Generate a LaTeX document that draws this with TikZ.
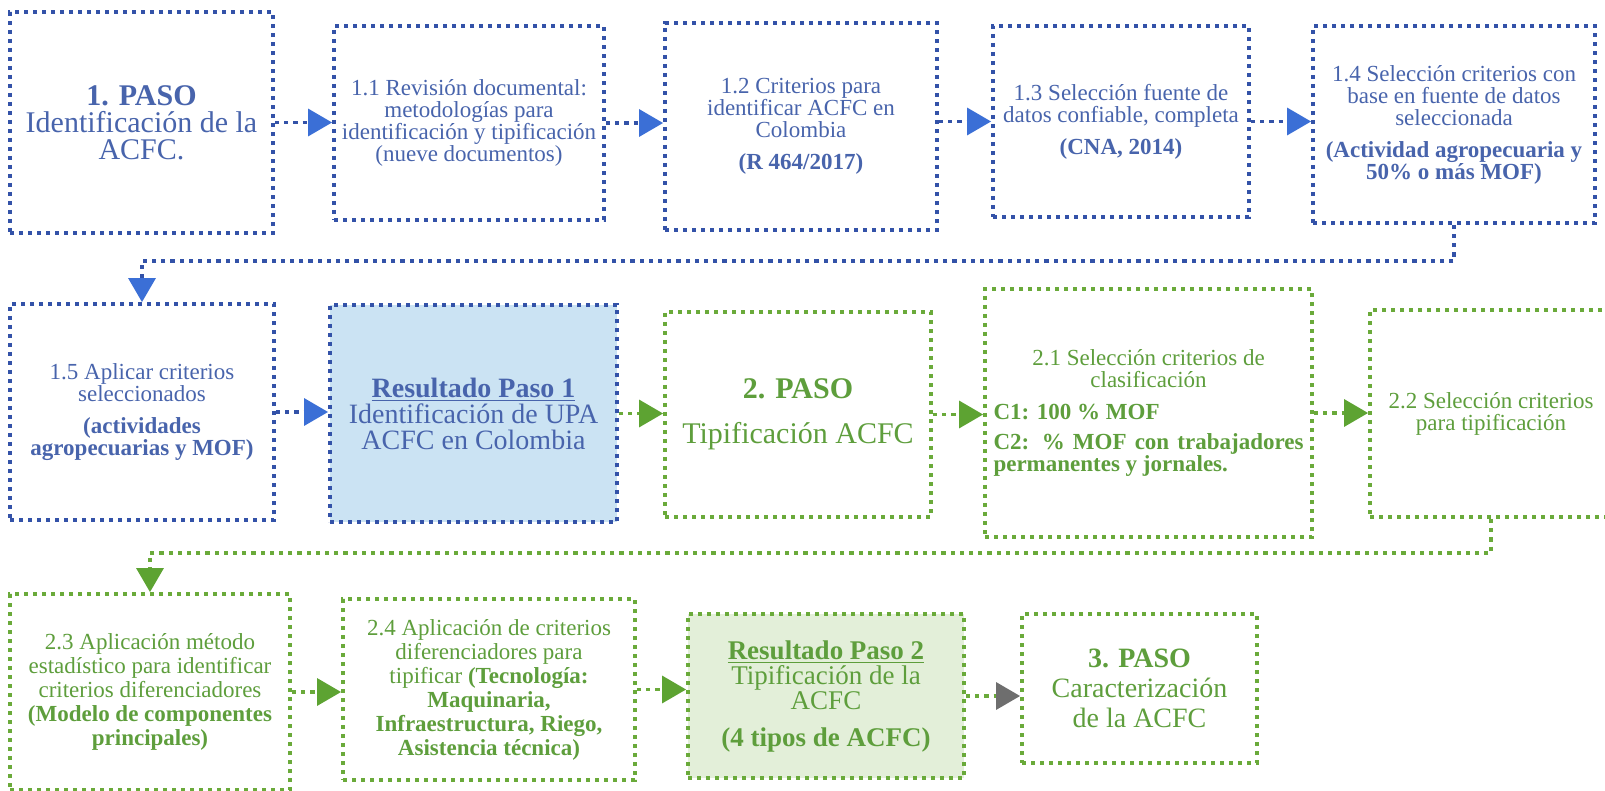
\documentclass[tikz,border=0pt]{standalone}
\usepackage{fontspec}
\setmainfont{Liberation Serif}
\usetikzlibrary{arrows.meta}
\setlength{\parindent}{0pt}
\definecolor{bdot}{HTML}{3352A8}
\definecolor{btext}{HTML}{4864AC}
\definecolor{barrow}{HTML}{3B6FD6}
\definecolor{gdot}{HTML}{6AAA3A}
\definecolor{gtext}{HTML}{5E9E3C}
\definecolor{garrow}{HTML}{5DA332}
\definecolor{bfill}{HTML}{CBE3F3}
\definecolor{gfill}{HTML}{E3EFD9}
\definecolor{grayarrow}{HTML}{6E6E6E}
\newcommand\fsm{\fontsize{11.5}{11}\selectfont}
\newcommand\fsmb{\fontsize{11.5}{12}\selectfont}
\newcommand\fmid{\fontsize{14}{13}\selectfont}
\newcommand\fbig{\fontsize{15}{13.5}\selectfont}
\begin{document}
\begin{tikzpicture}[x=0.5pt,y=-0.5pt,
  box/.style={rectangle, line width=1.9pt, dash pattern=on 2.1pt off 2.4pt, align=center, inner sep=2pt, font=\fsm},
  bluebox/.style={box, draw=bdot, text=btext},
  greenbox/.style={box, draw=gdot, text=gtext},
  conn/.style={line width=1.6pt, dash pattern=on 2.1pt off 2.5pt},
  blink/.style={conn, draw=bdot, -{Triangle[length=12pt,width=13.5pt,color=barrow]}},
  glink/.style={conn, draw=gdot, -{Triangle[length=12pt,width=13.5pt,color=garrow]}},
  graylink/.style={conn, draw=gdot, -{Triangle[length=12pt,width=13.5pt,color=grayarrow]}}
]
\useasboundingbox[fill=white] (0,0) rectangle (1605,791);

% Row 1
\node[bluebox, minimum width=131.5pt, minimum height=110.5pt, font=\fbig] (B1) at (141.5,122.5)
  {\textbf{1. PASO}\\Identificación de la\\ACFC.};
\node[bluebox, minimum width=135pt, minimum height=97pt] (B11) at (469,123)
  {1.1 Revisión documental:\\metodologías para\\identificación y tipificación\\(nueve documentos)};
\node[bluebox, minimum width=136pt, minimum height=103.5pt] (B12) at (801,126.5)
  {1.2 Criterios para\\identificar ACFC en\\Colombia\\[5pt]\textbf{(R 464/2017)}};
\node[bluebox, minimum width=128pt, minimum height=95.5pt] (B13) at (1121,121.5)
  {1.3 Selección fuente de\\datos confiable, completa\\[5pt]\textbf{(CNA, 2014)}};
\node[bluebox, minimum width=141pt, minimum height=98.5pt] (B14) at (1454,124.5)
  {1.4 Selección criterios con\\base en fuente de datos\\seleccionada\\[5pt]\textbf{(Actividad agropecuaria y}\\\textbf{50\% o más MOF)}};

% Row 2
\node[bluebox, minimum width=132pt, minimum height=108pt] (B15) at (142,412)
  {1.5 Aplicar criterios\\seleccionados\\[5pt]\textbf{(actividades}\\\textbf{agropecuarias y MOF)}};
\node[bluebox, fill=bfill, minimum width=143.5pt, minimum height=108.5pt, font=\fmid] (BR1) at (473.5,413.5)
  {\textbf{\underline{Resultado Paso 1}}\\Identificación de UPA\\ACFC en Colombia};
\node[greenbox, minimum width=133pt, minimum height=102.5pt, font=\fbig] (B2P) at (798,414.5)
  {\textbf{2. PASO}\\[9pt]Tipificación ACFC};
\node[greenbox, minimum width=163.5pt, minimum height=124pt, text width=155pt, align=justify] (B21) at (1148.5,413)
  {{\centering 2.1 Selección criterios de\par clasificación\par}\vspace{5pt}\textbf{C1: 100 \% MOF}\par\vspace{4pt}\textbf{C2: \% MOF con trabajadores\linebreak permanentes y jornales.}};
\node[greenbox, minimum width=121pt, minimum height=103.5pt] (B22) at (1491,413.5)
  {2.2 Selección criterios\\para tipificación};

% Row 3
\node[greenbox, minimum width=140pt, minimum height=98pt, font=\fsmb] (B23) at (150,692)
  {2.3 Aplicación método\\estadístico para identificar\\criterios diferenciadores\\\textbf{(Modelo de componentes}\\\textbf{principales)}};
\node[greenbox, minimum width=146pt, minimum height=90.5pt, font=\fsmb] (B24) at (489,689.5)
  {2.4 Aplicación de criterios\\diferenciadores para\\tipificar \textbf{(Tecnología:}\\\textbf{Maquinaria,}\\\textbf{Infraestructura, Riego,}\\\textbf{Asistencia técnica)}};
\node[greenbox, fill=gfill, minimum width=138pt, minimum height=82pt, font=\fontsize{13.5}{12.5}\selectfont] (BR2) at (826,696)
  {\textbf{\underline{Resultado Paso 2}}\\Tipificación de la\\ACFC\\[6pt]\textbf{(4 tipos de ACFC)}};
\node[greenbox, minimum width=117.5pt, minimum height=74.5pt, font=\fontsize{14}{15}\selectfont] (B3P) at (1139.5,688.5)
  {\textbf{3. PASO}\\Caracterización\\de la ACFC};

% Row arrows
\draw[blink] (B1.east) -- (B1.east -| B11.west);
\draw[blink] (B11.east) -- (B11.east -| B12.west);
\draw[blink] (B12.east |- B13.east) -- (B13.west);
\draw[blink] (B13.east) -- (B13.east -| B14.west);

\draw[blink] (B15.east) -- (B15.east -| BR1.west);
\draw[glink] (BR1.east) -- (BR1.east -| B2P.west);
\draw[glink] (B2P.east) -- (B2P.east -| B21.west);
\draw[glink] (B21.east) -- (B21.east -| B22.west);

\draw[glink] (B23.east) -- (B23.east -| B24.west);
\draw[glink] (B24.east) -- (B24.east -| BR2.west);
\draw[graylink] (BR2.east) -- (BR2.east -| B3P.west);

% Row connectors
\coordinate (k1) at (142,261);
\draw[blink] (B14.south) |- (k1) -- (B15.north);
\coordinate (k2) at (150,553);
\draw[glink] (B22.south) |- (k2) -- (B23.north);
\end{tikzpicture}
\end{document}
